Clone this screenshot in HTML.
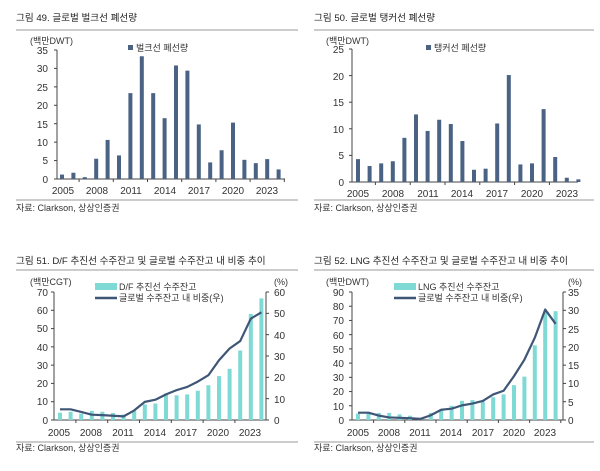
<!DOCTYPE html>
<html><head><meta charset="utf-8"><style>
body{margin:0;background:#fff}
svg{display:block;font-family:"Liberation Sans","Noto Sans CJK KR",sans-serif}
.t{font-size:9.6px;fill:#222}
.a{font-size:10px;fill:#333}
.s{font-size:9px;fill:#333}
</style></head><body>
<svg id="c" width="600" height="471" viewBox="0 0 600 471">
<text class="t" x="16" y="21">그림 49. 글로벌 벌크선 폐선량</text>
<text class="t" x="314" y="21">그림 50. 글로벌 탱커선 폐선량</text>
<text class="t" x="16" y="264">그림 51. D/F 추진선 수주잔고 및 글로벌 수주잔고 내 비중 추이</text>
<text class="t" x="314" y="264">그림 52. LNG 추진선 수주잔고 및 글로벌 수주잔고 내 비중 추이</text>
<g stroke="#999" stroke-width="1">
<line x1="16" y1="30" x2="298" y2="30"/><line x1="314" y1="30" x2="594" y2="30"/>
<line x1="16" y1="200" x2="298" y2="200"/><line x1="314" y1="200" x2="594" y2="200"/>
<line x1="16" y1="270" x2="298" y2="270"/><line x1="314" y1="270" x2="594" y2="270"/>
<line x1="16" y1="442" x2="298" y2="442"/><line x1="314" y1="442" x2="594" y2="442"/>
</g>
<text class="s" x="16" y="211">자료: Clarkson, 상상인증권</text>
<text class="s" x="314" y="211">자료: Clarkson, 상상인증권</text>
<text class="s" x="16" y="451">자료: Clarkson, 상상인증권</text>
<text class="s" x="314" y="451">자료: Clarkson, 상상인증권</text>

<text class="s" x="30" y="44">(백만DWT)</text>
<g class="a" text-anchor="end">
<text x="48" y="54">35</text><text x="48" y="72">30</text><text x="48" y="91">25</text><text x="48" y="109">20</text><text x="48" y="128">15</text><text x="48" y="146">10</text><text x="48" y="164">5</text><text x="48" y="183">0</text></g>
<g class="a" text-anchor="middle"><text x="63" y="194">2005</text><text x="97" y="194">2008</text><text x="131" y="194">2011</text><text x="165" y="194">2014</text><text x="199" y="194">2017</text><text x="233" y="194">2020</text><text x="267" y="194">2023</text></g>
<rect x="128" y="45" width="5" height="5" fill="#4a6284"/><text class="s" x="136" y="51">벌크선 폐선량</text>

<text class="s" x="326" y="44">(백만DWT)</text>
<g class="a" text-anchor="end">
<text x="344" y="53">25</text><text x="344" y="80">20</text><text x="344" y="106">15</text><text x="344" y="133">10</text><text x="344" y="159">5</text><text x="344" y="186">0</text></g>
<g class="a" text-anchor="middle"><text x="358" y="197">2005</text><text x="393" y="197">2008</text><text x="428" y="197">2011</text><text x="462" y="197">2014</text><text x="497" y="197">2017</text><text x="532" y="197">2020</text><text x="567" y="197">2023</text></g>
<rect x="426" y="45" width="5" height="5" fill="#4a6284"/><text class="s" x="434" y="51">탱커선 폐선량</text>

<text class="s" x="30" y="285">(백만CGT)</text><text class="s" x="274" y="285">(%)</text>
<g class="a" text-anchor="end">
<text x="48" y="296">70</text><text x="48" y="314">60</text><text x="48" y="332">50</text><text x="48" y="351">40</text><text x="48" y="369">30</text><text x="48" y="387">20</text><text x="48" y="405">10</text><text x="48" y="424">0</text></g>
<g class="a"><text x="274" y="296">60</text><text x="274" y="317">50</text><text x="274" y="339">40</text><text x="274" y="360">30</text><text x="274" y="381">20</text><text x="274" y="403">10</text><text x="274" y="424">0</text></g>
<g class="a" text-anchor="middle"><text x="59" y="436">2005</text><text x="91" y="436">2008</text><text x="123" y="436">2011</text><text x="155" y="436">2014</text><text x="186" y="436">2017</text><text x="218" y="436">2020</text><text x="250" y="436">2023</text></g>
<rect x="95" y="283" width="22" height="7" fill="#7fd9d5"/><text class="s" x="119" y="290">D/F 추진선 수주잔고</text>
<line x1="95" y1="298" x2="117" y2="298" stroke="#3f5677" stroke-width="2.5"/><text class="s" x="119" y="301">글로벌 수주잔고 내 비중(우)</text>

<text class="s" x="568" y="285">(%)</text><text class="s" x="326" y="285">(백만DWT)</text>
<g class="a" text-anchor="end">
<text x="344" y="296">90</text><text x="344" y="310">80</text><text x="344" y="324">70</text><text x="344" y="339">60</text><text x="344" y="353">50</text><text x="344" y="367">40</text><text x="344" y="381">30</text><text x="344" y="395">20</text><text x="344" y="410">10</text><text x="344" y="424">0</text></g>
<g class="a"><text x="568" y="296">35</text><text x="568" y="314">30</text><text x="568" y="333">25</text><text x="568" y="351">20</text><text x="568" y="369">15</text><text x="568" y="387">10</text><text x="568" y="406">5</text><text x="568" y="424">0</text></g>
<g class="a" text-anchor="middle"><text x="358" y="436">2005</text><text x="389" y="436">2008</text><text x="420" y="436">2011</text><text x="451" y="436">2014</text><text x="483" y="436">2017</text><text x="514" y="436">2020</text><text x="545" y="436">2023</text></g>
<rect x="394" y="283" width="22" height="7" fill="#7fd9d5"/><text class="s" x="418" y="290">LNG 추진선 수주잔고</text>
<line x1="394" y1="298" x2="416" y2="298" stroke="#3f5677" stroke-width="2.5"/><text class="s" x="418" y="301">글로벌 수주잔고 내 비중(우)</text>
<g id="g"></g>
</svg>
<script>
var g=document.getElementById('g'),h='';
function chart(o){
 var bw=o.bw;
 h+='<line x1="'+o.ax+'" y1="'+o.y1+'" x2="'+o.ax+'" y2="'+o.y0+'" stroke="#444"/>';
 h+='<line x1="'+o.ax+'" y1="'+o.y0+'" x2="'+o.xe+'" y2="'+o.y0+'" stroke="#444"/>';
 for(var k=0;k<=o.n;k++){var y=o.y0-(o.y0-o.y1)*k/o.n;h+='<line x1="'+(o.ax-3)+'" y1="'+y+'" x2="'+o.ax+'" y2="'+y+'" stroke="#444"/>';}
 if(o.rx){h+='<line x1="'+o.rx+'" y1="'+o.y1+'" x2="'+o.rx+'" y2="'+o.y0+'" stroke="#444"/>';
  for(var k=0;k<=o.rn;k++){var y=o.y0-(o.y0-o.y1)*k/o.rn;h+='<line x1="'+o.rx+'" y1="'+y+'" x2="'+(o.rx+3)+'" y2="'+y+'" stroke="#444"/>';}}
 for(var k=0;k<7;k++){var x=o.x0+o.dx*(3*k+1.5);if(x<o.xe)h+='<line x1="'+x+'" y1="'+o.y0+'" x2="'+x+'" y2="'+(o.y0+3)+'" stroke="#444"/>';}
 o.b.forEach(function(v,i){var x=o.x0+o.dx*i,hh=(o.y0-o.y1)*v/o.max;
  h+='<rect x="'+(x-bw/2)+'" y="'+(o.y0-hh)+'" width="'+bw+'" height="'+hh+'" fill="'+o.c+'"/>';});
 if(o.l){var p=o.l.map(function(v,i){return (o.x0+o.dx*i)+','+(o.y0-(o.y0-o.y1)*v/o.lmax)}).join(' ');
  h+='<polyline points="'+p+'" fill="none" stroke="#3f5677" stroke-width="2.2" stroke-linejoin="round"/>';}
}
chart({ax:57,xe:285,y0:179,y1:50,n:7,x0:62,dx:11.4,bw:4,max:35,c:'#4a6284',
 b:[1.2,1.7,0.5,5.5,10.6,6.4,23.3,33.3,23.3,16.5,30.8,29.4,14.8,4.5,7.8,15.3,5.2,4.3,5.4,2.6]});
chart({ax:352,xe:578,y0:182,y1:49,n:5,x0:358,dx:11.6,bw:4,max:25,c:'#4a6284',
 b:[4.3,3.0,3.5,3.9,8.3,12.7,9.6,11.7,10.9,7.7,2.3,2.5,11.0,20.1,3.3,3.5,13.7,4.7,0.8,0.5]});
chart({ax:54,xe:266,y0:420,y1:292,n:7,rx:266,rn:6,x0:60,dx:10.6,bw:4,max:70,c:'#7fd9d5',
 b:[4,4.5,3.5,5,4.5,3.8,3,5,8.5,9,14.5,13.5,14,16,19,24,28,38,58,66.5],lmax:60,
 l:[5,5,3.8,2.5,2.3,2,1.7,4.5,8.5,9.5,12,14,15.5,18,21,28,33.5,37,47.5,50.5]});
chart({ax:352,xe:563,y0:420,y1:292,n:9,rx:563,rn:7,x0:358,dx:10.4,bw:4,max:90,c:'#7fd9d5',
 b:[4.5,4.5,5,5,4,3,1,5,7.5,10,13.5,14,13,16,18,24.5,30.5,52.5,76,76.5],lmax:35,
 l:[2,2,1.2,0.7,0.6,0.5,0.3,1.3,2.8,3.1,4,4.5,5.2,7,8,12,16.5,22.5,30.2,26.3]});
g.innerHTML=h;
</script>
</body></html>
